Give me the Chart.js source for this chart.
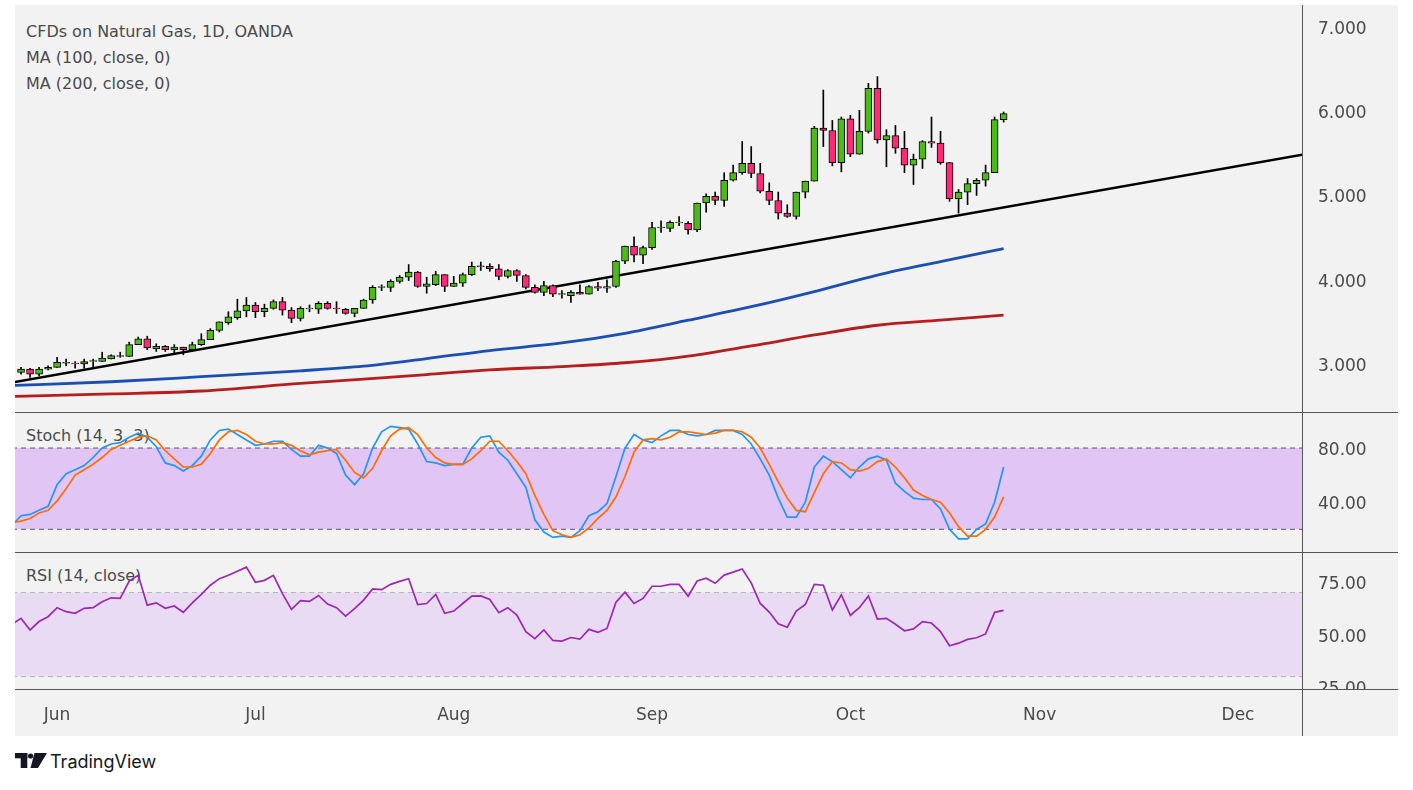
<!DOCTYPE html>
<html>
<head>
<meta charset="utf-8">
<script src="https://cdn.jsdelivr.net/npm/chart.js@4.4.1/dist/chart.umd.min.js"></script>
<style>
  body { margin: 0; background: #fff; width: 1413px; height: 790px; overflow: hidden; font-family: "DejaVu Sans", sans-serif; }
  #frame { position: absolute; left: 15px; top: 5px; width: 1383px; height: 731px; background: #f2f2f2; }
  canvas { position: absolute; left: 15px; z-index: 2; }
  .label { position: absolute; left: 26px; font-size: 16px; line-height: 20px; color: #4a4a4a; white-space: nowrap; z-index: 1; }
  .hline { position: absolute; left: 15px; width: 1383px; height: 1px; background: #555; z-index: 3; }
  .vline { position: absolute; left: 1302px; top: 5px; width: 1px; height: 731px; background: #555; z-index: 3; }
  #cover { position: absolute; left: 1303px; top: 690px; width: 95px; height: 46px; background: #f2f2f2; z-index: 3; }
  #brand { position: absolute; left: 15px; top: 752px; height: 22px; }
  #brand span { position: absolute; left: 35px; top: -1px; font-family: Inter, "Noto Sans", sans-serif; font-size: 18px; color: #131722; white-space: nowrap; }
</style>
</head>
<body>
<div id="frame"></div>
<div class="label" style="top:22px">CFDs on Natural Gas, 1D, OANDA</div>
<div class="label" style="top:48px">MA (100, close, 0)</div>
<div class="label" style="top:74px">MA (200, close, 0)</div>
<div class="label" style="top:426px">Stoch (14, 3, 3)</div>
<div class="label" style="top:566px">RSI (14, close)</div>

<canvas id="priceChart" width="1383" height="407" style="top:5px"></canvas>
<canvas id="stochChart" width="1383" height="140" style="top:412px"></canvas>
<canvas id="rsiChart" width="1383" height="184" style="top:552px"></canvas>

<div class="hline" style="top:412px"></div>
<div class="hline" style="top:552px"></div>
<div class="hline" style="top:689px"></div>
<div class="vline"></div>
<div id="cover"></div>

<div id="brand">
  <svg width="33" height="17" viewBox="0 0 33 17">
    <rect x="0" y="1" width="12.3" height="5.3" fill="#131722"/>
    <rect x="5.7" y="1" width="6.6" height="15" fill="#131722"/>
    <circle cx="15.6" cy="4" r="2.6" fill="#131722"/>
    <polygon points="19.5,1 32,1 23,16 15.5,16" fill="#131722"/>
  </svg>
  <span>TradingView</span>
</div>

<script>
// daily bars, index 0 = May 26 2021 ... index 109 = Oct 26 2021 (trading days)
const opens  = [2.90,2.94,2.88,2.94,2.96,3.01,3.01,3.00,3.03,3.03,3.06,3.09,3.09,3.23,3.30,3.18,3.21,3.17,3.20,3.17,
                3.23,3.29,3.40,3.49,3.55,3.63,3.70,3.62,3.66,3.74,3.64,3.54,3.655,3.65,3.72,3.665,3.65,3.60,3.66,3.76,
                3.91,3.91,3.98,4.03,4.09,3.92,3.94,4.06,3.92,3.96,4.06,4.155,4.16,4.13,4.04,4.11,4.05,3.91,3.85,3.93,
                3.825,3.81,3.85,3.83,3.92,3.90,3.92,4.22,4.40,4.29,4.38,4.615,4.61,4.675,4.67,4.59,4.91,4.99,4.94,5.18,
                5.27,5.38,5.26,5.05,4.94,4.79,4.75,5.04,5.17,5.80,5.77,5.39,5.91,5.49,5.76,6.27,5.66,5.71,5.56,5.36,
                5.43,5.64,5.62,5.39,4.96,5.04,5.14,5.18,5.27,5.90];
const highs  = [2.96,2.95,2.96,2.98,3.08,3.06,3.03,3.06,3.06,3.14,3.11,3.14,3.26,3.32,3.33,3.24,3.22,3.23,3.20,3.26,
                3.36,3.42,3.50,3.62,3.77,3.79,3.73,3.71,3.76,3.79,3.67,3.68,3.70,3.74,3.74,3.74,3.66,3.66,3.77,3.93,
                3.94,4.00,4.05,4.18,4.10,4.03,4.10,4.06,4.04,4.08,4.21,4.21,4.19,4.18,4.12,4.12,4.06,3.94,3.98,3.94,
                3.87,3.87,3.94,3.93,3.97,4.00,4.23,4.40,4.51,4.40,4.68,4.70,4.70,4.75,4.69,4.91,5.02,5.04,5.27,5.36,
                5.64,5.58,5.38,5.15,5.04,4.89,5.04,5.17,5.82,6.25,5.89,5.93,5.95,6.01,6.33,6.41,5.78,5.83,5.76,5.49,
                5.65,5.93,5.76,5.39,5.07,5.20,5.20,5.36,5.93,5.99];
const lows   = [2.88,2.84,2.86,2.93,2.96,2.98,2.95,2.95,2.97,3.03,3.06,3.08,3.09,3.23,3.17,3.15,3.15,3.13,3.11,3.17,
                3.22,3.29,3.38,3.47,3.53,3.56,3.55,3.56,3.65,3.58,3.49,3.51,3.62,3.60,3.65,3.60,3.59,3.56,3.66,3.72,
                3.87,3.86,3.96,3.99,3.91,3.84,3.93,3.86,3.92,3.92,4.05,4.11,4.10,4.00,4.02,3.98,3.89,3.84,3.81,3.80,
                3.78,3.73,3.83,3.83,3.87,3.85,3.91,4.19,4.21,4.19,4.36,4.56,4.57,4.64,4.54,4.57,4.80,4.89,4.87,5.17,
                5.25,5.21,5.03,4.89,4.72,4.74,4.72,4.97,5.17,5.58,5.35,5.28,5.46,5.49,5.74,5.62,5.34,5.50,5.27,5.13,
                5.32,5.57,5.37,4.93,4.79,4.89,5.00,5.11,5.27,5.87];
const closes = [2.94,2.88,2.94,2.96,3.02,3.02,3.00,3.03,3.04,3.07,3.10,3.10,3.23,3.30,3.19,3.21,3.17,3.20,3.17,3.23,
                3.29,3.40,3.50,3.56,3.63,3.70,3.62,3.66,3.74,3.64,3.54,3.66,3.665,3.72,3.66,3.655,3.60,3.66,3.76,3.91,
                3.92,3.98,4.03,4.09,3.92,3.95,4.06,3.92,3.96,4.06,4.16,4.165,4.13,4.04,4.11,4.05,3.91,3.85,3.93,3.83,
                3.835,3.85,3.83,3.92,3.90,3.92,4.22,4.40,4.29,4.38,4.62,4.625,4.68,4.685,4.59,4.91,4.99,4.94,5.18,5.27,
                5.38,5.26,5.05,4.94,4.79,4.75,5.04,5.17,5.80,5.77,5.39,5.91,5.49,5.76,6.27,5.66,5.71,5.56,5.36,5.43,
                5.64,5.62,5.39,4.96,5.04,5.14,5.18,5.27,5.90,5.97];

// moving averages at these bar indices
const maBars = [-1, 10, 20, 31, 38, 45, 52, 60, 67, 74, 81, 88, 95, 102, 109];
const ma100  = [2.745, 2.79, 2.85, 2.92, 2.975, 3.065, 3.16, 3.25, 3.365, 3.52, 3.68, 3.86, 4.055, 4.215, 4.37];
const ma200  = [2.615, 2.645, 2.68, 2.77, 2.82, 2.875, 2.93, 2.97, 3.015, 3.095, 3.215, 3.345, 3.46, 3.52, 3.58];

// drawn trend line anchors
const trendBars = [-1, 143];
const trendVals = [2.78, 5.50];

// indicators start one bar before the first candle
const indStart = -1;
const stochK = [23, 30,31,34,37,53,61,64,67,73,80,83,84,88,91,88,81,69,67,63,67,74,86,93,94,90,86,82,83,85,85,
                79,74,74,82,80,76,60,53,61,80,92,96,95,94,83,70,69,67,68,68,80,88,89,77,71,
                61,51,27,18,14,15,14,19,30,33,39,59,80,90,86,84,89,93,93,90,89,90,93,93,93,90,83,72,60,43,
                29,29,40,66,74,70,64,58,66,72,74,71,54,48,43,42,42,35,20,13,13,20,24,40,66];
const stochD = [25, 26,28,32,34,41,50,60,64,68,73,79,82,85,88,89,86,78,72,66,66,68,76,86,92,93,90,85,83,83,84,
                82,78,75,77,78,79,71,62,58,65,78,89,94,95,90,80,73,69,68,68,72,78,85,85,78,
                70,61,45,31,19,16,14,16,21,28,34,44,59,77,86,87,86,88,92,92,91,90,91,93,93,92,88,80,68,55,
                43,34,33,47,61,70,69,64,63,65,70,72,66,58,49,45,42,40,32,22,15,15,20,29,44];
const rsi    = [55, 57.7,52.2,56.2,58.5,62.8,60.9,60.1,62.5,62.8,65.6,67.5,67.2,75.5,78.2,64,65.1,62.5,63.6,60.6,65.1,
                69.1,73.5,76.6,78.2,80.1,82.1,74.9,75.8,78.2,69.5,62,66.2,65.8,68.6,64.5,62.8,58.8,62.3,66.4,71.7,
                71.4,73.9,75.3,76.6,64.3,64.8,69.1,60.1,61.2,64.8,68.3,68.4,66.7,60.4,62.8,
                59.3,51.4,48.1,52.2,47.2,46.9,48.6,47.8,52.5,51.1,52.9,65.4,70.2,64.8,67.2,73,73,73.9,73.9,68.3,
                75.5,76.8,74.4,78.3,79.7,81.2,74.6,64.8,60.7,55.1,53.5,61.2,64.3,73.9,73.5,61.7,68.9,59.2,62.8,68.4,
                57.4,57.7,54.9,51.8,52.7,56.2,55.5,51.4,44.7,45.9,47.7,48.5,50.3,60.6,61.5];

const months = ["Jun", "Jul", "Aug", "Sep", "Oct", "Nov", "Dec"];
const monthStartBars = [4, 26, 48, 70, 92, 113, 135];
const priceTicks = [3, 4, 5, 6, 7];
const stochTicks = [40, 80];
const stochLevels = [80, 20];
const rsiTicks = [25, 50, 75];
const rsiLevels = [70, 30];

Chart.defaults.font.family = '"DejaVu Sans", sans-serif';
Chart.defaults.color = "#4a4a4a";

const UP = "#4cbb17", DOWN = "#ff2a77";

function xAxis(show) {
  const axis = {
    type: "linear", min: -0.67, max: 142.1, offset: false, display: show,
    grid: { display: false, drawTicks: false }, border: { display: false },
    afterBuildTicks: a => { a.ticks = monthStartBars.map(v => ({ value: v })); },
    ticks: { autoSkip: false, maxRotation: 0, padding: 16, font: { size: 17 },
             callback: v => months[monthStartBars.indexOf(v)] }
  };
  // only the bottom panel keeps room for the time axis
  if (show) axis.afterFit = a => { a.height = 47; a.paddingLeft = 0; a.paddingRight = 0; };
  return axis;
}

function yAxis(min, max, ticks, digits) {
  return {
    position: "right", min, max,
    grid: { display: false, drawTicks: false }, border: { display: false },
    afterBuildTicks: a => { a.ticks = ticks.map(v => ({ value: v })); },
    afterFit: a => { a.width = 96; a.paddingTop = 0; a.paddingBottom = 0; },
    ticks: { padding: 16, labelOffset: 2.5, font: { size: 17 }, callback: v => v.toFixed(digits) }
  };
}

const baseOpts = {
  responsive: false, animation: false, events: [],
  layout: { padding: 0 },
  plugins: { legend: { display: false }, title: { display: false }, tooltip: { enabled: false } }
};

function levelLine(value, color, fill) {
  return {
    type: "line", data: [{ x: -1, y: value }, { x: 143, y: value }],
    borderColor: color, borderWidth: 1, borderDash: [5, 4], pointRadius: 0,
    fill: fill ? "-1" : false, backgroundColor: fill, order: 5
  };
}

// price panel
const bars = opens.map((o, i) => i);
new Chart(document.getElementById("priceChart"), {
  type: "bar",
  data: {
    datasets: [
      {
        data: bars.map(i => ({ x: i, y: [Math.min(opens[i], closes[i]), Math.max(opens[i], closes[i])] })),
        backgroundColor: bars.map(i => closes[i] >= opens[i] ? UP : DOWN),
        borderColor: "#000", borderWidth: 1, borderSkipped: false,
        barThickness: 7, grouped: false, order: 0
      },
      {
        data: bars.map(i => ({ x: i, y: [lows[i], highs[i]] })),
        backgroundColor: "#000", barThickness: 1, grouped: false, order: 1
      },
      {
        type: "line", data: trendBars.map((b, k) => ({ x: b, y: trendVals[k] })),
        borderColor: "#000", borderWidth: 2.6, pointRadius: 0, order: 2
      },
      {
        type: "line", data: maBars.map((b, k) => ({ x: b, y: ma100[k] })),
        borderColor: "#1b4fb3", borderWidth: 2.8, pointRadius: 0, cubicInterpolationMode: "monotone", order: 3
      },
      {
        type: "line", data: maBars.map((b, k) => ({ x: b, y: ma200[k] })),
        borderColor: "#b71d1d", borderWidth: 2.8, pointRadius: 0, cubicInterpolationMode: "monotone", order: 3
      }
    ]
  },
  options: { ...baseOpts, scales: { x: xAxis(false), y: yAxis(2.431, 7.259, priceTicks, 3) } }
});

// stochastic panel
new Chart(document.getElementById("stochChart"), {
  type: "line",
  data: {
    datasets: [
      levelLine(stochLevels[0], "#5d5866", null),
      levelLine(stochLevels[1], "#5d5866", "#e1c5f4"),
      { data: stochK.map((v, k) => ({ x: indStart + k, y: v })), borderColor: "#2196f3", borderWidth: 1.7, pointRadius: 0, order: 1 },
      { data: stochD.map((v, k) => ({ x: indStart + k, y: v })), borderColor: "#ff6d00", borderWidth: 1.7, pointRadius: 0, order: 0 }
    ]
  },
  options: { ...baseOpts, scales: { x: xAxis(false), y: yAxis(3.25, 106.6, stochTicks, 2) } }
});

// RSI panel, carries the time axis
new Chart(document.getElementById("rsiChart"), {
  type: "line",
  data: {
    datasets: [
      levelLine(rsiLevels[0], "#b4b4b4", null),
      levelLine(rsiLevels[1], "#b4b4b4", "#e9dbf4"),
      { data: rsi.map((v, k) => ({ x: indStart + k, y: v })), borderColor: "#9c27b0", borderWidth: 1.7, pointRadius: 0, order: 0 }
    ]
  },
  options: { ...baseOpts, scales: { x: xAxis(true), y: yAxis(24.1, 89.3, rsiTicks, 2) } }
});
</script>
</body>
</html>
